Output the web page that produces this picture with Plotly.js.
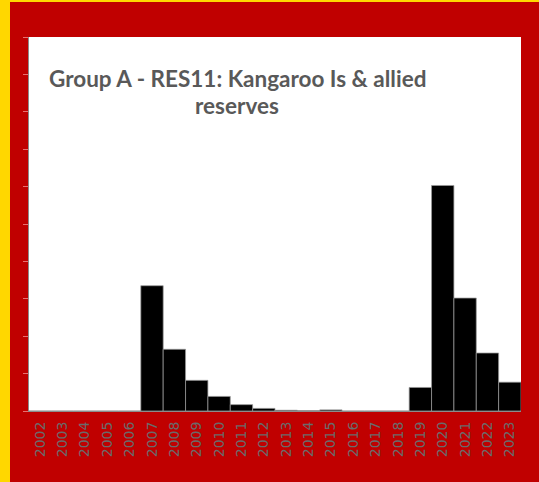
<!DOCTYPE html>
<html>
<head>
<meta charset="utf-8">
<script src="https://cdn.plot.ly/plotly-3.0.1.min.js"></script>
<style>
html,body{margin:0;padding:0;background:#FFD700;width:539px;height:482px;overflow:hidden;}
#chart{position:absolute;left:10px;top:2px;width:529px;height:480px;}
</style>
</head>
<body>
<div id="chart"></div>
<script>
const years = ["2002","2003","2004","2005","2006","2007","2008","2009","2010","2011","2012","2013","2014","2015","2016","2017","2018","2019","2020","2021","2022","2023"];
const values = [0,0,0,0,0,3.35,1.65,0.82,0.39,0.17,0.07,0.02,0.01,0.03,0,0,0,0.63,6.03,3.02,1.55,0.77];
const titleLine1 = "Group A - RES11: Kangaroo Is & allied";
const titleLine2 = "reserves";

const trace = {
  type: "bar",
  x: years,
  y: values,
  marker: {color: "#000000", line: {color: "#9a9a9a", width: 0.75}},
  hoverinfo: "x+y"
};

const layout = {
  width: 529,
  height: 480,
  margin: {l: 19, r: 18, t: 35, b: 71, pad: 0},
  paper_bgcolor: "#C00000",
  plot_bgcolor: "#FFFFFF",
  bargap: 0,
  showlegend: false,
  xaxis: {
    type: "category",
    tickangle: -90,
    tickfont: {family: "DejaVu Sans", size: 14, color: "#6a6a6a"},
    ticklabelstandoff: 4,
    ticks: "",
    showline: true,
    linecolor: "#8c8c8c",
    linewidth: 1,
    showgrid: false,
    zeroline: false
  },
  yaxis: {
    range: [0, 10],
    dtick: 1,
    showticklabels: false,
    ticks: "outside",
    ticklen: 5,
    tickwidth: 1,
    tickcolor: "#e87070",
    showgrid: false,
    zeroline: false,
    showline: true,
    linecolor: "#8c8c8c",
    linewidth: 1
  },
  annotations: [
    {text: "<b>" + titleLine1 + "</b>", xref: "paper", yref: "paper", x: 0.423, y: 0.890, xanchor: "center", yanchor: "middle", showarrow: false, font: {family: "Lato", size: 22.5, color: "#595959"}},
    {text: "<b>" + titleLine2 + "</b>", xref: "paper", yref: "paper", x: 0.423, y: 0.818, xanchor: "center", yanchor: "middle", showarrow: false, font: {family: "Lato", size: 22.5, color: "#595959"}}
  ]
};

Plotly.newPlot("chart", [trace], layout, {displayModeBar: false, staticPlot: true});
</script>
</body>
</html>
